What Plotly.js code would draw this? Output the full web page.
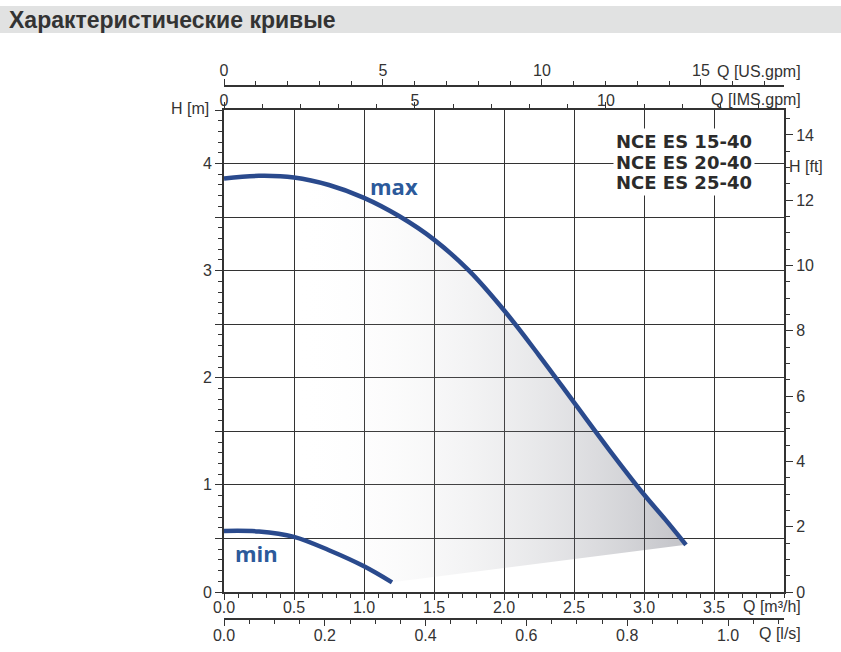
<!DOCTYPE html>
<html>
<head>
<meta charset="utf-8">
<script src="https://cdn.plot.ly/plotly-3.0.1.min.js"></script>
<style>
  body { margin: 0; background: #fff; }
  #plot { width: 841px; height: 652px; }
</style>
</head>
<body>
<div id="plot"></div>
<script>
// Pump curves: Q in m3/h, H in m
var maxQ = [0, 0.25, 0.5, 0.75, 1.0, 1.25, 1.5, 1.75, 2.0, 2.25, 2.5, 2.75, 3.0, 3.15, 3.3];
var maxH = [3.86, 3.885, 3.87, 3.80, 3.68, 3.51, 3.29, 3.00, 2.63, 2.21, 1.77, 1.33, 0.91, 0.68, 0.44];
var minQ = [0, 0.25, 0.5, 0.75, 1.0, 1.2];
var minH = [0.57, 0.565, 0.515, 0.39, 0.24, 0.09];
var models = ["NCE ES 15-40", "NCE ES 20-40", "NCE ES 25-40"];

// tick labels
var qTicks = [0, 0.5, 1.0, 1.5, 2.0, 2.5, 3.0, 3.5];
var lsTicks = [0, 0.2, 0.4, 0.6, 0.8, 1.0];
var imsTicks = [0, 5, 10];
var usTicks = [0, 5, 10, 15];
var hTicks = [0, 0.5, 1, 1.5, 2, 2.5, 3, 3.5, 4, 4.5];
var ftTicks = [0, 2, 4, 6, 8, 10, 12, 14];

// unit factors from m3/h and m
var LS = 1 / 3.6, USGPM = 4.40287, IMSGPM = 3.66615, FT = 1 / 0.3048;
var qMax = 4, hMax = 4.5;

// pixel -> paper helpers (plot area 224..784 x, paper 86..619 y)
function px(x) { return (x - 224) / 560; }
function py(y) { return (619 - y) / 533; }

// shaded working area between the curves
var shadeQ = [], shadeH = [];
for (var i = 0; i < maxQ.length; i++) {
  if (maxQ[i] >= 0.5) { shadeQ.push(maxQ[i]); shadeH.push(maxH[i]); }
}
for (var j = minQ.length - 1; j >= 0; j--) {
  if (minQ[j] >= 0.5) { shadeQ.push(minQ[j]); shadeH.push(minH[j]); }
}

var lineBlue = "#2a4a8d";
var dark = "#333";

var shade = {
  x: shadeQ, y: shadeH, mode: "lines", fill: "toself",
  line: { width: 0 },
  fillgradient: {
    type: "horizontal",
    colorscale: [[0, "rgba(255,255,255,0)"], [1, "rgba(60,62,78,0.31)"]]
  },
  hoverinfo: "skip"
};

var traceMax = {
  x: maxQ, y: maxH, mode: "lines",
  line: { color: lineBlue, width: 4.5, shape: "spline" }
};

var traceMin = {
  x: minQ, y: minH, mode: "lines",
  line: { color: lineBlue, width: 4.5, shape: "spline" }
};

// empty helpers so the extra axes get drawn
function holder(xa, ya) {
  return { x: [0], y: [0], xaxis: xa, yaxis: ya, mode: "markers",
           marker: { opacity: 0 }, hoverinfo: "skip" };
}

var data = [shade, traceMax, traceMin,
            holder("x2", "y"), holder("x3", "y"), holder("x4", "y"), holder("x", "y2")];

var tickFont = { family: "Liberation Sans, Arial, sans-serif", size: 16, color: dark };

function fmt1(v) { return v.toFixed(1); }

var baseAxis = {
  showline: true, linecolor: dark, linewidth: 2,
  ticks: "outside", ticklen: 6, tickcolor: dark, tickwidth: 1,
  zeroline: false, tickfont: tickFont, fixedrange: true
};

function axis(extra) { return Object.assign({}, baseAxis, extra); }

var annotations = [
  { text: "Q [m³/h]", x: px(803), y: py(606), xanchor: "right" },
  { text: "Q [l/s]", x: px(803), y: py(633), xanchor: "right" },
  { text: "Q [US.gpm]", x: px(803), y: py(71), xanchor: "right" },
  { text: "Q [IMS.gpm]", x: px(803), y: py(100), xanchor: "right" },
  { text: "H [m]", x: px(211), y: py(108), xanchor: "right" },
  { text: "H [ft]", x: px(787), y: py(167), xanchor: "left" }
].map(function (a) {
  return Object.assign({ xref: "paper", yref: "paper", yanchor: "middle",
                         showarrow: false, font: tickFont }, a);
});

models.forEach(function (m, k) {
  annotations.push({
    text: m, xref: "paper", yref: "paper", x: px(684), y: py(142 + 20 * k),
    xanchor: "center", yanchor: "middle", showarrow: false,
    bgcolor: "#fff", borderpad: 2,
    font: { family: "DejaVu Sans, sans-serif", size: 18, weight: "bold", color: "#2b2b2b" }
  });
});

annotations.push({
  text: "max", x: 1.212, y: 3.79, xref: "x", yref: "y", showarrow: false,
  font: { family: "Open Sans, sans-serif", size: 22, weight: "bold", color: "#2c5a9b" }
});
annotations.push({
  text: "min", x: 0.234, y: 0.36, xref: "x", yref: "y", showarrow: false,
  font: { family: "Open Sans, sans-serif", size: 22, weight: "bold", color: "#2c5a9b" }
});

var layout = {
  width: 841, height: 652,
  margin: { l: 224, r: 57, t: 86, b: 33 },
  paper_bgcolor: "#fff", plot_bgcolor: "#fff",
  showlegend: false,
  font: tickFont,
  title: {
    text: "Характеристические кривые",
    font: { family: "Liberation Sans, Arial, sans-serif", size: 23, weight: "bold", color: "#333" },
    xref: "container", yref: "container", x: 9 / 841, xanchor: "left",
    y: 1 - 20 / 652, yanchor: "middle"
  },
  shapes: [{
    type: "rect", xref: "paper", yref: "paper",
    x0: px(0), x1: px(841), y0: py(33), y1: py(6),
    fillcolor: "#e1e2e2", line: { width: 0 }, layer: "below"
  }],
  xaxis: axis({
    range: [0, qMax], tickmode: "array", tickvals: qTicks, ticktext: qTicks.map(fmt1),
    ticklabelstandoff: -6,
    showgrid: true, gridcolor: dark, gridwidth: 1,
    minor: { tickmode: "linear", tick0: 0, dtick: 0.1, ticklen: 4, tickcolor: dark, showgrid: false }
  }),
  xaxis2: axis({
    overlaying: "x", anchor: "free", position: 0, side: "bottom",
    range: [0, qMax * LS], tickmode: "array", tickvals: lsTicks, ticktext: lsTicks.map(fmt1),
    ticklabelstandoff: -4,
    showgrid: false,
    minor: { tickmode: "linear", tick0: 0, dtick: 0.05, ticklen: 4, tickcolor: dark, showgrid: false }
  }),
  xaxis3: axis({
    overlaying: "x", anchor: "y", side: "top",
    range: [0, qMax * IMSGPM], tickmode: "array", tickvals: imsTicks,
    ticklabelstandoff: -10,
    showgrid: false,
    minor: { tickmode: "linear", tick0: 0, dtick: 1, ticklen: 4, tickcolor: dark, showgrid: false }
  }),
  xaxis4: axis({
    overlaying: "x", anchor: "free", position: 1, side: "top",
    range: [0, qMax * USGPM], tickmode: "array", tickvals: usTicks,
    ticklabelstandoff: -3,
    showgrid: false,
    minor: { tickmode: "linear", tick0: 0, dtick: 1, ticklen: 4, tickcolor: dark, showgrid: false }
  }),
  yaxis: axis({
    domain: [py(592), py(110)],
    range: [0, hMax], tickmode: "array", tickvals: hTicks,
    ticktext: hTicks.map(function (v) { return v % 1 === 0 ? String(v) : ""; }),
    ticklen: 7,
    showgrid: true, gridcolor: dark, gridwidth: 1,
    minor: { tickmode: "linear", tick0: 0, dtick: 0.1, ticklen: 4, tickcolor: dark, showgrid: false }
  }),
  yaxis2: axis({
    overlaying: "y", side: "right", anchor: "x",
    range: [0, hMax * FT], tickmode: "array", tickvals: ftTicks,
    ticklen: 7, showgrid: false,
    minor: { tickmode: "linear", tick0: 0, dtick: 0.5, ticklen: 4, tickcolor: dark, showgrid: false }
  }),
  annotations: annotations
};

Plotly.newPlot("plot", data, layout, { displayModeBar: false, staticPlot: true });
</script>
</body>
</html>
